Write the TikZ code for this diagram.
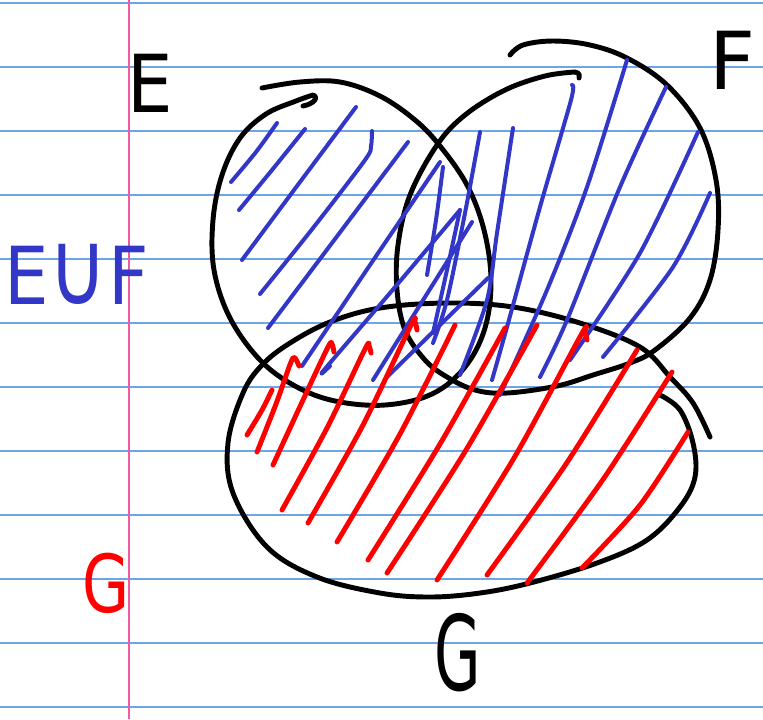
\documentclass[tikz,border=0pt]{standalone}
\usepackage{fontspec}
\setmainfont{DejaVu Sans}
\definecolor{ruleblue}{RGB}{110,165,230}
\definecolor{marginpink}{RGB}{240,90,160}
\definecolor{penblue}{RGB}{50,55,200}
\definecolor{penred}{RGB}{255,0,0}
\tikzset{
  outline/.style={line width=3.7pt, black, line cap=round, line join=round},
  bluehatch/.style={line width=3pt, penblue, line cap=round, line join=round},
  redhatch/.style={line width=3.7pt, penred, line cap=round, line join=round},
  rulestroke/.style={line width=1.4pt, ruleblue},
  marginstroke/.style={line width=1.5pt, marginpink},
  hand/.style={inner sep=0pt, anchor=base west, font=\fontsize{60}{60}\selectfont}
}
\begin{document}
\begin{tikzpicture}[x=0.75pt,y=-0.75pt]
\useasboundingbox (0,0) rectangle (763,719);
\fill[white] (0,0) rectangle (763,719);
% ruled paper
\foreach \yy in {3,67,131,195,259,323,387,451,515,579,643,707}
  \draw[rulestroke] (0,\yy) -- (763,\yy);
\draw[marginstroke] (129,0) -- (129,719);

% outlines
\draw[outline] plot[smooth, tension=0.6] coordinates {(262,88) (300,82) (340,82) (380,96) (415,120) (440,146) (467,185) (484,230) (491,280) (485,328) (465,367) (432,394) (385,405) (335,401) (295,386) (260,360) (230,318) (214,270) (213,220) (222,175) (240,138) (266,114) (296,101) (313,95)} .. controls (319,97) and (314,104) .. (303,106);
\draw[outline] plot[smooth, tension=0.6] coordinates {(510,55) (523,45) (553,41) (590,45) (627,58) (667,85) (700,128) (716,180) (718,230) (710,280) (690,318) (655,350) (630,363) (593,375) (557,386) (507,393) (475,390) (447,377) (425,360) (405,330) (397,290) (398,245) (410,195) (437,145) (465,115) (505,90) (545,76) (575,72)} .. controls (580,73) and (580,76) .. (579,78);
\draw[outline] plot[smooth, tension=0.6] coordinates {(660,395) (680,410) (693,443) (695,477) (680,507) (647,540) (597,563) (530,583) (480,593) (430,597) (380,593) (317,577) (267,547) (233,493) (228,443) (243,393) (262,365) (290,343) (330,322) (380,308) (447,303) (513,307) (580,323) (640,347) (670,377) (693,403) (710,437)};

% blue hatching (E union F)
\draw[bluehatch] plot[smooth] coordinates {(277,123) (256,152) (231,182)};
\draw[bluehatch] plot[smooth] coordinates {(305,129) (272,170) (239,210)};
\draw[bluehatch] plot[smooth] coordinates {(356,107) (300,182) (242,260)};
\draw[bluehatch] plot[smooth] coordinates {(372,131) (371,146) (365,160) (313,228) (260,294)};
\draw[bluehatch] plot[smooth] coordinates {(408,142) (338,235) (268,328)};
\draw[bluehatch] plot[smooth] coordinates {(440,162) (370,265) (302,366)};
\draw[bluehatch] plot[smooth] coordinates {(443,167) (436,220) (427,275)};
\draw[bluehatch] plot[smooth] coordinates {(460,210) (390,293) (324,370) (330,366)};
\draw[bluehatch] plot[smooth] coordinates {(460,210) (447,270) (433,333)};
\draw[bluehatch] plot[smooth] coordinates {(472,222) (420,305) (373,380)};
\draw[bluehatch] plot[smooth] coordinates {(488,278) (440,325) (387,377)};
\draw[bluehatch] plot[smooth] coordinates {(480,132) (465,213) (447,300) (433,343)};
\draw[bluehatch] plot[smooth] coordinates {(513,128) (497,233) (487,300) (460,375)};
\draw[bluehatch] plot[smooth] coordinates {(572,85) (571,100) (540,207) (507,327) (492,380)};
\draw[bluehatch] plot[smooth] coordinates {(627,60) (587,187) (547,290) (500,395)};
\draw[bluehatch] plot[smooth] coordinates {(666,87) (620,187) (567,320) (540,377)};
\draw[bluehatch] plot[smooth] coordinates {(698,132) (640,253) (570,360)};
\draw[bluehatch] plot[smooth] coordinates {(710,193) (673,267) (603,357)};

% red hatching (G)
\draw[redhatch] plot[smooth] coordinates {(247,435) (262,410) (272,390)};
\draw[redhatch] plot[smooth] coordinates {(257,452) (276,404) (291,362) (295,358) (299,366)};
\draw[redhatch] plot[smooth] coordinates {(273,465) (303,400) (328,347) (332,344) (334,352)};
\draw[redhatch] plot[smooth] coordinates {(282,510) (327,428) (365,349) (369,346) (371,353)};
\draw[redhatch] plot[smooth] coordinates {(308,523) (363,425) (411,325) (415,322) (417,330)};
\draw[redhatch] plot[smooth] coordinates {(337,542) (400,434) (455,325)};
\draw[redhatch] plot[smooth] coordinates {(368,560) (440,444) (505,328)};
\draw[redhatch] plot[smooth] coordinates {(387,573) (466,450) (537,325)};
\draw[redhatch] plot[smooth] coordinates {(437,580) (514,458) (581,335) (585,332) (587,340)};
\draw[redhatch] plot[smooth] coordinates {(487,575) (566,464) (637,350)};
\draw[redhatch] plot[smooth] coordinates {(527,583) (604,478) (672,372)};
\draw[redhatch] plot[smooth] coordinates {(582,568) (640,505) (688,432)};

% labels
\node[hand] (labelE) at (127,112) {\scalebox{0.9}[1]{E}};
\node[hand] (labelF) at (709,89) {F};
\node[hand, text=penblue] (labelEuF) at (4,304) {\scalebox{0.88}[1]{E\scalebox{1.15}[1.3]{∪}F}};
\node[hand, text=penred] (labelGred) at (82,612) {\scalebox{0.76}[1]{G}};
\node[hand] (labelG) at (434,690) {\scalebox{0.75}[1.3]{G}};
\end{tikzpicture}
\end{document}
